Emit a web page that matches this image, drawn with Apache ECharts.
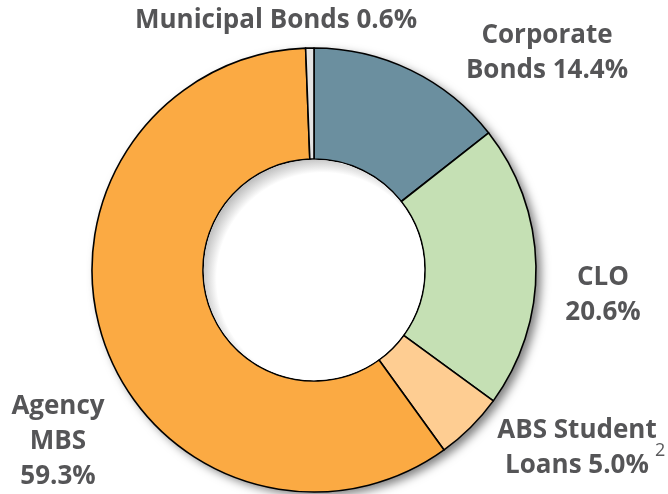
<!DOCTYPE html>
<html>
<head>
<meta charset="utf-8">
<script src="https://cdn.jsdelivr.net/npm/echarts@6/dist/echarts.min.js"></script>
<style>
html,body{margin:0;padding:0;background:#fff;}
#chart{width:668px;height:494px;}
</style>
</head>
<body>
<div id="chart"></div>
<script>
// Data (clockwise from 12 o'clock)
const categories = ['Corporate\nBonds', 'CLO', 'ABS Student\nLoans', 'Agency\nMBS', 'Municipal Bonds'];
const values = [14.4, 20.6, 5.0, 59.3, 0.6];
const separators = [' ', '\n', ' ', '\n', ' '];
const colors = ['#6b8f9f', '#c5e0b4', '#fecd92', '#fbaa43', '#e4e4e4'];
const footnote = '2';

// Layout (label anchor centers, px)
const labelAnchors = [[547, 53], [603, 295], [577, 448], [58, 442], [276, 21]];

const chart = echarts.init(document.getElementById('chart'), null, {renderer: 'canvas'});
const cx = 314, cy = 270, rOuter = 222, rInner = 111;

chart.setOption({
  animation: false,
  backgroundColor: '#fff',
  graphic: [{
    type: 'text',
    left: 655, top: 442,
    style: {text: footnote, fill: '#5a5a5c', font: '18px "Open Sans", sans-serif'}
  }],
  series: [
    {
      // shadow base disc
      type: 'pie', silent: true, center: [cx, cy], radius: [0, rOuter],
      label: {show: false}, labelLine: {show: false},
      itemStyle: {color: '#ffffff', shadowColor: 'rgba(0,0,0,0.5)', shadowBlur: 10, shadowOffsetX: 5, shadowOffsetY: 4},
      data: [{value: 1, name: ''}], z: 1
    },
    {
      type: 'pie',
      center: [cx, cy],
      radius: [rInner, rOuter],
      startAngle: 90,
      clockwise: true,
      avoidLabelOverlap: false,
      z: 2,
      itemStyle: {borderColor: '#000', borderWidth: 1.6},
      label: {
        show: true,
        position: 'outside',
        color: '#555557',
        fontFamily: '"Open Sans", sans-serif',
        fontWeight: 'bold',
        fontSize: 26,
        lineHeight: 35,
        align: 'center',
        formatter: p => p.name + separators[p.dataIndex] + p.value.toFixed(1) + '%'
      },
      labelLine: {show: false},
      labelLayout: p => ({x: labelAnchors[p.dataIndex][0], y: labelAnchors[p.dataIndex][1], align: 'center', verticalAlign: 'middle'}),
      data: categories.map((c, i) => ({name: c, value: values[i], itemStyle: {color: colors[i]}}))
    },
    {
      // inner hole with soft inset shading
      type: 'pie', silent: true, center: [cx, cy], radius: [0, rInner - 0.8],
      label: {show: false}, labelLine: {show: false}, z: 3,
      itemStyle: {
        color: {type: 'radial', x: 0.54, y: 0.54, r: 0.56, colorStops: [
          {offset: 0, color: '#ffffff'}, {offset: 0.86, color: '#ffffff'}, {offset: 1, color: '#b8b8b8'}
        ]}
      },
      data: [{value: 1, name: ''}]
    }
  ]
});
</script>
</body>
</html>
